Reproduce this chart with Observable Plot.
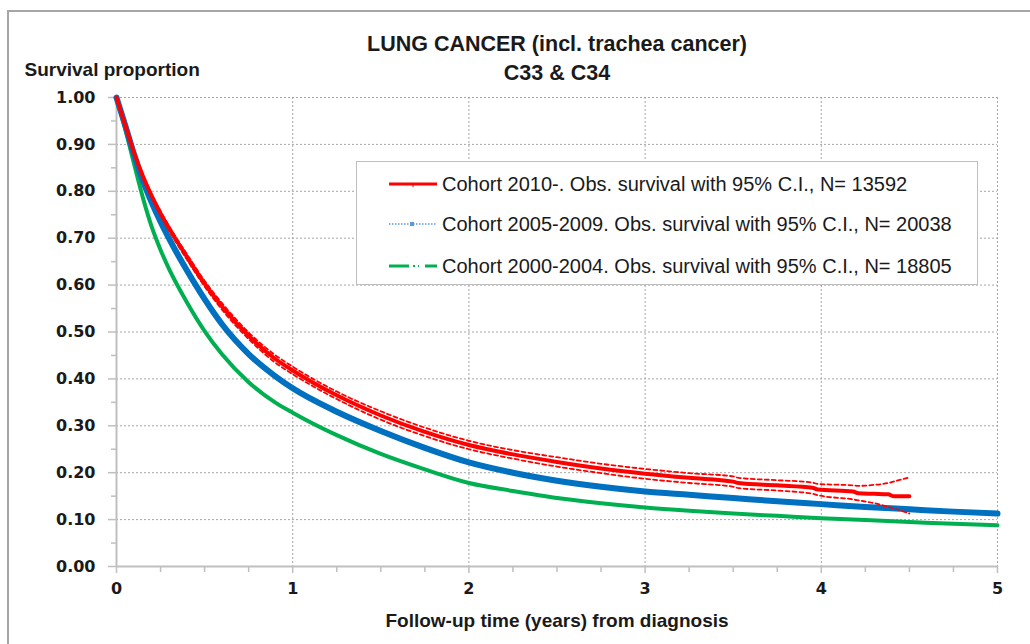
<!DOCTYPE html>
<html><head><meta charset="utf-8">
<script src="https://cdn.jsdelivr.net/npm/d3@7"></script>
<script src="https://cdn.jsdelivr.net/npm/@observablehq/plot@0.6"></script>
<style>
html,body{margin:0;padding:0;background:#fff;}
body{width:1030px;height:644px;overflow:hidden;position:relative;font-family:"Liberation Sans",Arial,sans-serif;}
#frame{position:absolute;left:7px;top:10px;width:1100px;height:700px;border:2px solid #a6a6a6;box-sizing:border-box;}
#chart{position:absolute;left:0;top:0;}
#legend{position:absolute;left:356px;top:161px;width:622px;height:124px;box-sizing:border-box;border:1px solid #bfbfbf;background:#fff;}
.li{position:absolute;left:30px;height:20px;display:flex;align-items:center;font-size:20px;color:#1a1a1a;white-space:nowrap;}
.li svg{margin-right:3px;flex:none;}
</style>
</head><body>
<div id="frame"></div>
<div id="chart"></div>
<div id="legend"></div>
<script>
// ---- data ----
const seriesNames = [
  "Cohort 2010-. Obs. survival with 95% C.I., N= 13592",
  "Cohort 2005-2009. Obs. survival with 95% C.I., N= 20038",
  "Cohort 2000-2004. Obs. survival with 95% C.I., N= 18805"
];
const seriesColors = ["#ff0000", "#0070c0", "#00b050"];

const redTime  = [0,0.05,0.1,0.15,0.2,0.25,0.3,0.4,0.5,0.6,0.75,0.9,1,1.25,1.5,1.75,2,2.25,2.5,2.75,3,3.25,3.5,3.53,3.75,3.95,3.98,4.18,4.21,4.3,4.38,4.41,4.5];
const redSurv  = [1,0.94,0.882,0.832,0.79,0.753,0.72,0.66,0.603,0.554,0.492,0.443,0.418,0.365,0.322,0.287,0.259,0.239,0.223,0.209,0.198,0.189,0.181,0.178,0.173,0.168,0.164,0.160,0.156,0.155,0.154,0.150,0.150];
const redUpper = [1,0.942,0.885,0.836,0.794,0.758,0.725,0.666,0.609,0.561,0.499,0.451,0.426,0.373,0.331,0.296,0.268,0.248,0.233,0.219,0.208,0.199,0.192,0.189,0.184,0.179,0.176,0.173,0.172,0.174,0.178,0.181,0.19];
const redLower = [1,0.938,0.879,0.828,0.786,0.748,0.715,0.654,0.597,0.547,0.485,0.435,0.41,0.357,0.313,0.278,0.25,0.23,0.213,0.199,0.187,0.178,0.17,0.167,0.162,0.155,0.152,0.143,0.141,0.135,0.127,0.124,0.113];

const timeMain  = [0,0.05,0.1,0.15,0.2,0.25,0.3,0.4,0.5,0.6,0.75,0.9,1,1.25,1.5,1.75,2,2.25,2.5,2.75,3,3.25,3.5,3.75,4,4.25,4.5,4.75,5];
const blueSurv  = [1,0.94,0.878,0.822,0.776,0.735,0.698,0.631,0.57,0.516,0.453,0.406,0.38,0.33,0.289,0.253,0.222,0.2,0.183,0.17,0.16,0.153,0.146,0.139,0.133,0.127,0.122,0.117,0.113];
const greenSurv = [1,0.932,0.858,0.786,0.724,0.675,0.633,0.563,0.502,0.452,0.393,0.35,0.328,0.28,0.24,0.207,0.178,0.161,0.146,0.135,0.126,0.119,0.113,0.108,0.103,0.099,0.095,0.091,0.088];

const xMajor = [0,1,2,3,4,5];
const xMinor = [0.25,0.5,0.75,1.25,1.5,1.75,2.25,2.5,2.75,3.25,3.5,3.75,4.25,4.5,4.75];
const yMajor = [0,0.1,0.2,0.3,0.4,0.5,0.6,0.7,0.8,0.9,1.0];
const yMinor = [0.05,0.15,0.25,0.35,0.45,0.55,0.65,0.75,0.85,0.95];

const titleLines = ["LUNG CANCER (incl. trachea cancer)", "C33 & C34"];
const yTitle = "Survival proportion";
const xTitle = "Follow-up time (years) from diagnosis";

// ---- tables ----
const red = redTime.map((t,i)=>({t, s: redSurv[i], u: redUpper[i], l: redLower[i]}));
const blue = timeMain.map((t,i)=>({t, s: blueSurv[i]}));
const green = timeMain.map((t,i)=>({t, s: greenSurv[i]}));

const font = "'Liberation Sans', Arial, sans-serif";
const tickFont = "'DejaVu Sans', sans-serif";
const axisColor = "#bfbfbf";
const gridColor = "#a6a6a6";
const ink = "#1a1a1a";

const chart = Plot.plot({
  width: 1030,
  height: 644,
  marginLeft: 116,
  marginRight: 33,
  marginTop: 97,
  marginBottom: 78,
  style: {fontFamily: font, background: "transparent", overflow: "visible"},
  x: {domain: [0,5]},
  y: {domain: [0,1]},
  marks: [
    Plot.gridY(yMajor.filter(d=>d>0), {stroke: gridColor, strokeOpacity: 1, strokeWidth: 1, strokeDasharray: "2,2"}),
    Plot.gridX(xMajor.filter(d=>d>0), {stroke: gridColor, strokeOpacity: 1, strokeWidth: 1, strokeDasharray: "2,2"}),
    Plot.ruleX([0], {stroke: axisColor, strokeWidth: 2}),
    Plot.ruleY([0], {stroke: axisColor, strokeWidth: 2}),
    Plot.axisY(yMajor, {tickSize: 8, tickPadding: 13, tickFormat: d3.format(".2f"), stroke: axisColor, strokeWidth: 1.5, fontSize: 16, fontWeight: "bold", fontFamily: tickFont, fill: ink, label: null}),
    Plot.axisY(yMinor, {tickSize: 5, tickFormat: () => "", stroke: axisColor, strokeWidth: 1.5, label: null}),
    Plot.axisX(xMajor, {tickSize: 7, tickPadding: 9, tickFormat: d3.format("d"), stroke: axisColor, strokeWidth: 1.5, fontSize: 16, fontWeight: "bold", fontFamily: tickFont, fill: ink, label: null}),
    Plot.axisX(xMinor, {tickSize: 6, tickFormat: () => "", stroke: axisColor, strokeWidth: 1.5, label: null}),
    // green cohort
    Plot.line(green, {x: "t", y: "s", stroke: seriesColors[2], strokeWidth: 4, curve: "monotone-x"}),
    // blue cohort
    Plot.line(blue, {x: "t", y: "s", stroke: seriesColors[1], strokeWidth: 6, curve: "monotone-x"}),
    // red cohort with CI
    Plot.line(red, {x: "t", y: "u", stroke: seriesColors[0], strokeWidth: 1.8, strokeDasharray: "4,3", curve: "monotone-x"}),
    Plot.line(red, {x: "t", y: "l", stroke: seriesColors[0], strokeWidth: 1.8, strokeDasharray: "4,3", curve: "monotone-x"}),
    Plot.line(red, {x: "t", y: "s", stroke: seriesColors[0], strokeWidth: 4, curve: "monotone-x"}),
    // titles
    Plot.text([titleLines[0]], {frameAnchor: "top", lineAnchor: "middle", dy: -53, fontSize: 21.5, fontWeight: "bold", fill: ink}),
    Plot.text([titleLines[1]], {frameAnchor: "top", lineAnchor: "middle", dy: -24, fontSize: 21.5, fontWeight: "bold", fill: ink}),
    Plot.text([yTitle], {frameAnchor: "top-left", lineAnchor: "middle", textAnchor: "start", dx: -92, dy: -28, fontSize: 19, fontWeight: "bold", fill: ink}),
    Plot.text([xTitle], {frameAnchor: "bottom", lineAnchor: "middle", dy: 54, fontSize: 19, fontWeight: "bold", fill: ink})
  ]
});
document.getElementById("chart").appendChild(chart);

// ---- legend ----
const legend = document.getElementById("legend");
const samples = [
  `<line x1="2" y1="10" x2="50" y2="10" stroke="${seriesColors[0]}" stroke-width="3"/><line x1="26" y1="10" x2="26" y2="13" stroke="${seriesColors[0]}" stroke-width="1"/>`,
  `<line x1="2" y1="10" x2="50" y2="10" stroke="#5b9bd5" stroke-width="1.5" stroke-dasharray="1.5,1.5"/><rect x="23" y="8" width="4" height="4" fill="#5b9bd5"/>`,
  `<line x1="2" y1="10" x2="22" y2="10" stroke="${seriesColors[2]}" stroke-width="3"/><line x1="26" y1="10" x2="28" y2="10" stroke="${seriesColors[2]}" stroke-width="2"/><line x1="31" y1="10" x2="32" y2="10" stroke="${seriesColors[2]}" stroke-width="2"/><line x1="38" y1="10" x2="50" y2="10" stroke="${seriesColors[2]}" stroke-width="3"/>`
];
const tops = [12, 52, 94];
seriesNames.forEach((name, i) => {
  const d = document.createElement("div");
  d.className = "li";
  d.style.top = tops[i] + "px";
  d.innerHTML = `<svg width="52" height="20">${samples[i]}</svg><span>${name}</span>`;
  legend.appendChild(d);
});
</script>
</body></html>
